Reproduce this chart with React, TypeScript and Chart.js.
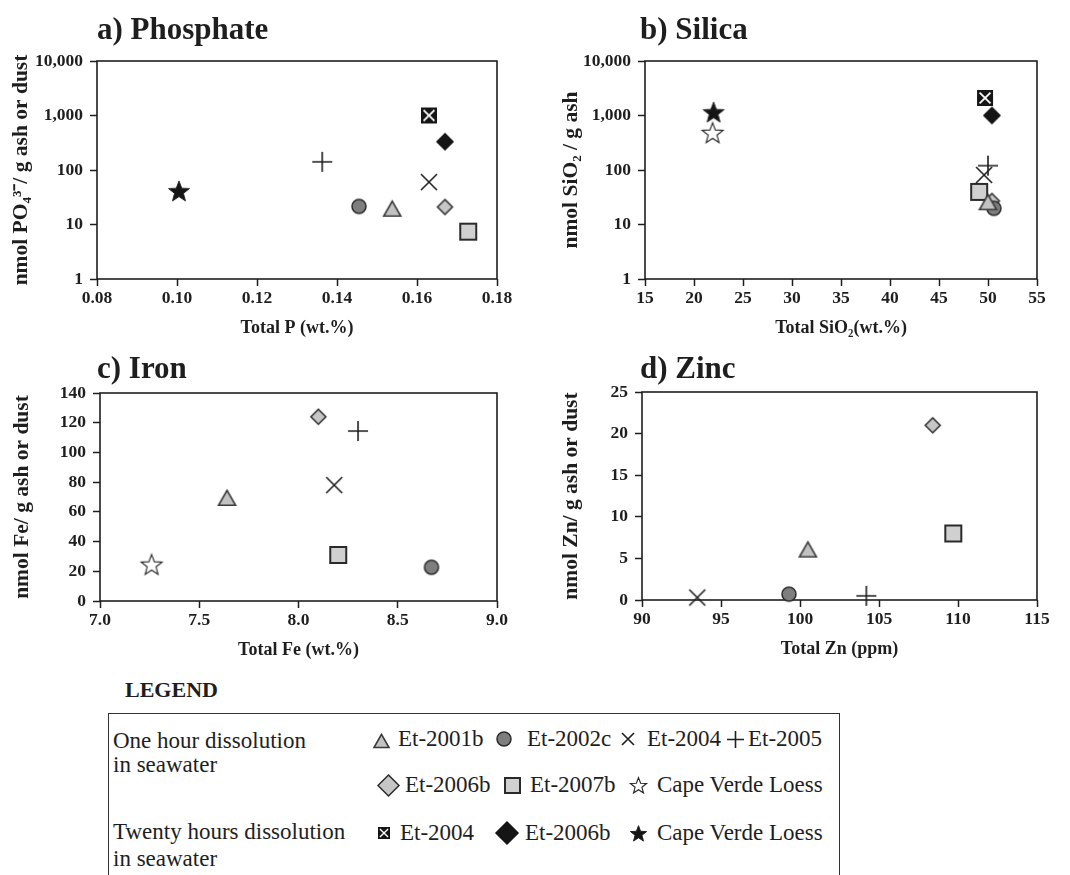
import React, { useEffect, useRef } from 'react';
import { Chart, registerables } from 'chart.js';

Chart.register(...registerables);

const FONT = "'Liberation Serif', 'Times New Roman', Times, serif";
const INK = '#1e1e1e';

// ---------- series (one entry per marker type) ----------
const sampleNames = [
  'Et-2001b', 'Et-2002c', 'Et-2004', 'Et-2005', 'Et-2006b', 'Et-2007b', 'Cape Verde Loess',
  'Et-2004', 'Et-2006b', 'Cape Verde Loess',
];
const sampleMarkers = [
  'triangle', 'circle', 'x', 'plus', 'diamond', 'square', 'starOpen',
  'xbox', 'diamondFilled', 'starFilled',
];

// ---------- a) Phosphate ----------
const phosphateTotalP = [0.1538, 0.1455, 0.163, 0.1363, 0.167, 0.1728, null, 0.163, 0.167, 0.1005];
const phosphateRelease = [19, 21.5, 60, 141, 21, 7.4, null, 1000, 330, 41];

// ---------- b) Silica ----------
const silicaTotalSiO2 = [50.0, 50.6, 49.6, 50.0, 50.4, 49.1, 21.9, 49.7, 50.4, 22.0];
const silicaRelease = [25, 19.8, 81, 120, 27, 39.6, 480, 2100, 1000, 1150];

// ---------- c) Iron ----------
const ironTotalFe = [7.64, 8.67, 8.18, 8.3, 8.1, 8.2, 7.26, null, null, null];
const ironRelease = [69, 22.7, 78, 114.4, 124, 31, 24.5, null, null, null];

// ---------- d) Zinc ----------
const zincTotalZn = [100.5, 99.3, 93.5, 104.2, 108.4, 109.7, null, null, null, null];
const zincRelease = [6.0, 0.7, 0.3, 0.5, 21, 8, null, null, null, null];

// ---------- tick labels ----------
const logTickLabels = ['1', '10', '100', '1,000', '10,000'];
const pTickLabels = ['0.08', '0.10', '0.12', '0.14', '0.16', '0.18'];
const siTickLabels = ['15', '20', '25', '30', '35', '40', '45', '50', '55'];
const feTickLabels = ['7.0', '7.5', '8.0', '8.5', '9.0'];
const feYTickLabels = ['0', '20', '40', '60', '80', '100', '120', '140'];
const znTickLabels = ['90', '95', '100', '105', '110', '115'];
const znYTickLabels = ['0', '5', '10', '15', '20', '25'];

// ---------- marker drawing ----------
function starPath(ctx: CanvasRenderingContext2D, cx: number, cy: number, ro: number, ri: number) {
  ctx.beginPath();
  for (let i = 0; i < 10; i++) {
    const r = i % 2 === 0 ? ro : ri;
    const a = -Math.PI / 2 + (i * Math.PI) / 5;
    const px = cx + r * Math.cos(a);
    const py = cy + r * Math.sin(a);
    if (i === 0) ctx.moveTo(px, py);
    else ctx.lineTo(px, py);
  }
  ctx.closePath();
}

function drawMarker(ctx: CanvasRenderingContext2D, kind: string, cx: number, cy: number, s: number) {
  const h = s / 2;
  ctx.save();
  ctx.lineJoin = 'miter';
  switch (kind) {
    case 'triangle': {
      ctx.beginPath();
      ctx.moveTo(cx, cy - h * 0.95);
      ctx.lineTo(cx + h, cy + h * 0.8);
      ctx.lineTo(cx - h, cy + h * 0.8);
      ctx.closePath();
      ctx.fillStyle = '#c2c2c2';
      ctx.fill();
      ctx.lineWidth = 1.6;
      ctx.strokeStyle = '#3a3a3a';
      ctx.stroke();
      break;
    }
    case 'circle': {
      ctx.beginPath();
      ctx.arc(cx, cy, h, 0, Math.PI * 2);
      ctx.fillStyle = '#7e7e7e';
      ctx.fill();
      ctx.lineWidth = 1.5;
      ctx.strokeStyle = '#2a2a2a';
      ctx.stroke();
      break;
    }
    case 'x': {
      ctx.beginPath();
      ctx.moveTo(cx - h, cy - h);
      ctx.lineTo(cx + h, cy + h);
      ctx.moveTo(cx + h, cy - h);
      ctx.lineTo(cx - h, cy + h);
      ctx.lineWidth = 1.6;
      ctx.strokeStyle = INK;
      ctx.stroke();
      break;
    }
    case 'plus': {
      ctx.beginPath();
      ctx.moveTo(cx - h, cy);
      ctx.lineTo(cx + h, cy);
      ctx.moveTo(cx, cy - h);
      ctx.lineTo(cx, cy + h);
      ctx.lineWidth = 1.6;
      ctx.strokeStyle = INK;
      ctx.stroke();
      break;
    }
    case 'diamond':
    case 'diamondFilled': {
      ctx.beginPath();
      ctx.moveTo(cx, cy - h);
      ctx.lineTo(cx + h, cy);
      ctx.lineTo(cx, cy + h);
      ctx.lineTo(cx - h, cy);
      ctx.closePath();
      ctx.fillStyle = kind === 'diamond' ? '#c6c6c6' : '#151515';
      ctx.fill();
      ctx.lineWidth = 1.5;
      ctx.strokeStyle = kind === 'diamond' ? '#2a2a2a' : '#151515';
      ctx.stroke();
      break;
    }
    case 'square': {
      ctx.fillStyle = '#d0d0d0';
      ctx.fillRect(cx - h, cy - h, s, s);
      ctx.lineWidth = 2;
      ctx.strokeStyle = '#2a2a2a';
      ctx.strokeRect(cx - h, cy - h, s, s);
      break;
    }
    case 'starOpen':
    case 'starFilled': {
      starPath(ctx, cx, cy + h * 0.08, h, h * 0.42);
      ctx.fillStyle = kind === 'starOpen' ? '#ffffff' : '#151515';
      ctx.fill();
      ctx.lineWidth = kind === 'starOpen' ? 1.1 : 1;
      ctx.strokeStyle = '#222';
      ctx.stroke();
      break;
    }
    case 'xbox': {
      ctx.fillStyle = '#151515';
      ctx.fillRect(cx - h, cy - h, s, s);
      const k = h * 0.68;
      ctx.beginPath();
      ctx.moveTo(cx - k, cy - k);
      ctx.lineTo(cx + k, cy + k);
      ctx.moveTo(cx + k, cy - k);
      ctx.lineTo(cx - k, cy + k);
      ctx.lineWidth = Math.max(1.4, s / 9);
      ctx.strokeStyle = '#ffffff';
      ctx.stroke();
      break;
    }
  }
  ctx.restore();
}

const chartMarkerSize: Record<string, number> = {
  triangle: 17, circle: 14, x: 16, plus: 20, diamond: 15, square: 16,
  starOpen: 22, xbox: 16, diamondFilled: 16, starFilled: 22,
};
const legendMarkerSize: Record<string, number> = {
  triangle: 15, circle: 14, x: 12, plus: 17, diamond: 21, square: 15,
  starOpen: 17, xbox: 12, diamondFilled: 22, starFilled: 17,
};

function markerImage(kind: string, s: number) {
  const c = document.createElement('canvas');
  const d = Math.ceil(s + 6);
  c.width = d;
  c.height = d;
  const ctx = c.getContext('2d')!;
  drawMarker(ctx, kind, d / 2, d / 2, s);
  return c;
}

// ---------- chart helpers ----------
const framePlugin = {
  id: 'frame',
  beforeDatasetsDraw(chart: any) {
    const { ctx, chartArea: a } = chart;
    ctx.save();
    ctx.strokeStyle = INK;
    ctx.lineWidth = 1.6;
    ctx.strokeRect(a.left, a.top, a.right - a.left, a.bottom - a.top);
    ctx.restore();
  },
};

function tickFont() {
  return { family: FONT, size: 17.5, weight: 'bold' as const };
}

function axis(
  labels: string[],
  type: 'linear' | 'logarithmic',
  horizontal: boolean,
  title: string,
  fitSize: number,
  titlePad: number,
) {
  const values = labels.map((l) => parseFloat(l.replace(/,/g, '')));
  return {
    type,
    position: horizontal ? 'bottom' : 'left',
    min: values[0],
    max: values[values.length - 1],
    afterBuildTicks: (scale: any) => {
      scale.ticks = values.map((v) => ({ value: v }));
    },
    afterFit: (scale: any) => {
      if (horizontal) scale.height = fitSize;
      else scale.width = fitSize;
    },
    grid: {
      display: true,
      drawOnChartArea: false,
      drawTicks: true,
      tickLength: 7,
      tickWidth: 1.5,
      tickColor: INK,
    },
    border: { display: false },
    ticks: {
      callback: (_v: any, i: number) => labels[i],
      color: INK,
      font: tickFont(),
      padding: horizontal ? 2 : 7,
      maxRotation: 0,
      autoSkip: false,
    },
    title: {
      display: true,
      text: title,
      color: INK,
      font: { family: FONT, size: horizontal ? 18 : 21.5, weight: 'bold' as const },
      padding: horizontal ? { top: 0, bottom: titlePad } : { top: titlePad, bottom: 0 },
    },
  };
}

type PanelCfg = {
  left: number;
  top: number;
  w: number;
  h: number;
  padTop: number;
  yWidth: number;
  yTitlePad: number;
  xs: (number | null)[];
  ys: (number | null)[];
  xLabels: string[];
  yLabels: string[];
  yType: 'linear' | 'logarithmic';
  xTitle: string;
  yTitle: string;
};

function Panel({ cfg }: { cfg: PanelCfg }) {
  const ref = useRef<HTMLCanvasElement | null>(null);
  useEffect(() => {
    const datasets = sampleNames
      .map((name, i) => ({
        label: name,
        data:
          cfg.xs[i] == null || cfg.ys[i] == null ? [] : [{ x: cfg.xs[i] as number, y: cfg.ys[i] as number }],
        pointStyle: markerImage(sampleMarkers[i], chartMarkerSize[sampleMarkers[i]]) as any,
        pointRadius: 8,
        showLine: false,
        clip: false as any,
      }))
      .filter((d) => d.data.length > 0);
    const chart = new Chart(ref.current!, {
      type: 'scatter',
      data: { datasets },
      options: {
        animation: false,
        responsive: false,
        maintainAspectRatio: false,
        layout: { padding: { top: cfg.padTop, right: 33, left: 0, bottom: 0 } },
        plugins: { legend: { display: false }, tooltip: { enabled: false }, title: { display: false } },
        events: [],
        scales: {
          x: axis(cfg.xLabels, 'linear', true, cfg.xTitle, 66, 6) as any,
          y: axis(cfg.yLabels, cfg.yType, false, cfg.yTitle, cfg.yWidth, cfg.yTitlePad) as any,
        },
      },
      plugins: [framePlugin],
    });
    return () => chart.destroy();
  }, []);
  return (
    <canvas
      ref={ref}
      width={cfg.w}
      height={cfg.h}
      style={{ position: 'absolute', left: cfg.left, top: cfg.top, width: cfg.w, height: cfg.h }}
    />
  );
}

function LegendMarker({ kind, cx, cy }: { kind: string; cx: number; cy: number }) {
  const ref = useRef<HTMLCanvasElement | null>(null);
  const s = legendMarkerSize[kind];
  const d = Math.ceil(s + 6);
  useEffect(() => {
    const ctx = ref.current!.getContext('2d')!;
    ctx.clearRect(0, 0, d, d);
    drawMarker(ctx, kind, d / 2, d / 2, s);
  }, []);
  return (
    <canvas
      ref={ref}
      width={d}
      height={d}
      style={{ position: 'absolute', left: cx - d / 2, top: cy - d / 2, width: d, height: d }}
    />
  );
}

const panels: PanelCfg[] = [
  {
    left: 0, top: 0, w: 530, h: 345, padTop: 61, yWidth: 97, yTitlePad: 9,
    xs: phosphateTotalP, ys: phosphateRelease, xLabels: pTickLabels, yLabels: logTickLabels,
    yType: 'logarithmic', xTitle: 'Total P (wt.%)', yTitle: 'nmol PO\u2084\u00B3\u207B/ g ash or dust',
  },
  {
    left: 530, top: 0, w: 540, h: 345, padTop: 61, yWidth: 115, yTitlePad: 29,
    xs: silicaTotalSiO2, ys: silicaRelease, xLabels: siTickLabels, yLabels: logTickLabels,
    yType: 'logarithmic', xTitle: 'Total SiO\u2082(wt.%)', yTitle: 'nmol SiO\u2082 / g ash',
  },
  {
    left: 0, top: 330, w: 530, h: 337, padTop: 63, yWidth: 100, yTitlePad: 10,
    xs: ironTotalFe, ys: ironRelease, xLabels: feTickLabels, yLabels: feYTickLabels,
    yType: 'linear', xTitle: 'Total Fe (wt.%)', yTitle: 'nmol Fe/ g ash or dust',
  },
  {
    left: 530, top: 330, w: 540, h: 336, padTop: 62, yWidth: 112, yTitlePad: 29,
    xs: zincTotalZn, ys: zincRelease, xLabels: znTickLabels, yLabels: znYTickLabels,
    yType: 'linear', xTitle: 'Total Zn (ppm)', yTitle: 'nmol Zn/ g ash or dust',
  },
];

const headings = [
  { text: 'a) Phosphate', left: 97, baseline: 39 },
  { text: 'b) Silica', left: 640, baseline: 39 },
  { text: 'c) Iron', left: 97, baseline: 378 },
  { text: 'd) Zinc', left: 640, baseline: 378 },
];

// legend layout: series index, marker centre x, text left x
const legendRows = [
  { baseline: 746, items: [[0, 381, 398], [1, 504, 527], [2, 628, 647], [3, 735, 748]] },
  { baseline: 792, items: [[4, 388, 405], [5, 512, 530], [6, 638, 657]] },
  { baseline: 840, items: [[7, 384, 400], [8, 507, 525], [9, 638, 657]] },
];
const legendGroupText = [
  { text: 'One hour dissolution', baseline: 748 },
  { text: 'in seawater', baseline: 772 },
  { text: 'Twenty hours dissolution', baseline: 839 },
  { text: 'in seawater', baseline: 866 },
];

function TextAt({ text, left, baseline, size, bold }: { text: string; left: number; baseline: number; size: number; bold?: boolean }) {
  const top = baseline - size * (0.891 - 0.0535);
  return (
    <div
      style={{
        position: 'absolute',
        left,
        top,
        fontFamily: FONT,
        fontSize: size,
        lineHeight: 1,
        fontWeight: bold ? 'bold' : 'normal',
        color: INK,
        whiteSpace: 'nowrap',
      }}
    >
      {text}
    </div>
  );
}

export default function App() {
  return (
    <div
      style={{
        position: 'absolute',
        left: 0,
        top: 0,
        width: 1070,
        height: 875,
        overflow: 'hidden',
        background: '#ffffff',
      }}
    >
      {panels.map((p, i) => (
        <Panel key={i} cfg={p} />
      ))}
      {headings.map((h, i) => (
        <TextAt key={i} text={h.text} left={h.left} baseline={h.baseline} size={31} bold />
      ))}
      <TextAt text="LEGEND" left={125} baseline={697} size={22} bold />
      <div
        style={{
          position: 'absolute',
          left: 108,
          top: 713,
          width: 732,
          height: 220,
          border: '1.5px solid #333',
          boxSizing: 'border-box',
        }}
      />
      {legendGroupText.map((t, i) => (
        <TextAt key={i} text={t.text} left={113} baseline={t.baseline} size={23} />
      ))}
      {legendRows.map((row, ri) =>
        row.items.map(([si, mx, tx]) => (
          <React.Fragment key={`${ri}-${si}`}>
            <LegendMarker
              kind={sampleMarkers[si]}
              cx={mx}
              cy={row.baseline - (sampleMarkers[si] === 'triangle' ? 5 : 7)}
            />
            <TextAt text={sampleNames[si]} left={tx} baseline={row.baseline} size={23} />
          </React.Fragment>
        )),
      )}
    </div>
  );
}
